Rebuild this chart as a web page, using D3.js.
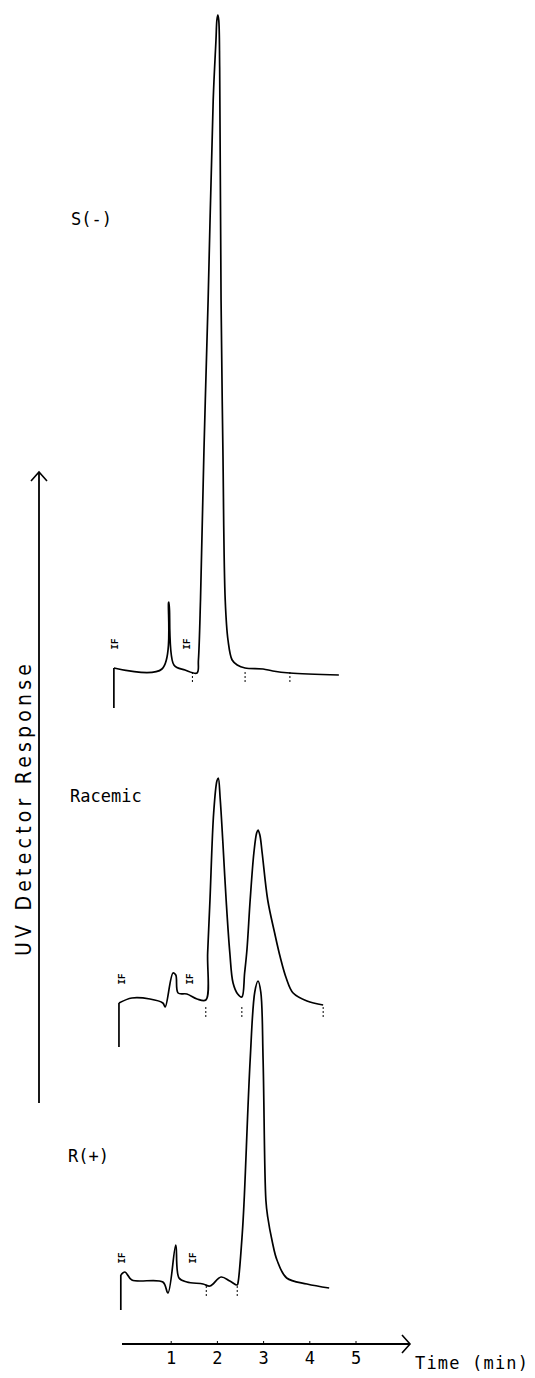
<!DOCTYPE html>
<html><head><meta charset="utf-8">
<script src="https://cdn.jsdelivr.net/npm/d3@7"></script>
<style>html,body{margin:0;padding:0;background:#fff;}svg{display:block;}</style>
</head><body>
<svg id="c" width="535" height="1378"></svg>
<script>
// ---- data (time in min, response in arbitrary detector units above each trace's baseline)
const timeTicks = [1, 2, 3, 4, 5];
const traceNames = ["S(-)", "Racemic", "R(+)"];

const sTime = [-0.23,-0.23,0.81,0.96,1.07,1.31,1.57,1.60,1.645,1.72,1.81,1.92,1.98,2.00,2.02,2.04,2.06,2.09,2.13,2.18,2.24,2.33,2.44,2.61,3.00,3.21,3.58,4.64];
const sResp = [-40,0,-1,66,3,-2,-5,8,68,218,368,568,628,648,653,648,600,368,218,68,28,8,3,0,-1,-3,-5,-7];

const racTime = [-0.12,-0.12,0.16,0.55,0.83,0.88,1.05,1.11,1.16,1.35,1.57,1.76,1.80,1.85,1.93,2.00,2.03,2.07,2.13,2.20,2.28,2.35,2.45,2.54,2.60,2.65,2.72,2.80,2.86,2.89,2.93,2.98,3.10,3.25,3.37,3.50,3.65,3.95,4.30];
const racResp = [-44,0,5,4,0,-4,30,28,10,9,4,3,50,103,190,222,225,205,160,103,50,20,9,6,30,53,103,150,170,173,168,150,103,70,46,25,10,2,-2];

const rTime = [-0.08,-0.08,0.01,0.16,0.83,0.94,1.11,1.18,1.35,1.70,1.85,2.09,2.28,2.44,2.46,2.55,2.59,2.72,2.82,2.89,2.95,3.00,3.06,3.10,3.20,3.30,3.51,3.95,4.43];
const rResp = [-28,7,10,2,0,-11,37,4,0,-2,-4,5,1,-3,0,49,82,222,290,301,290,222,82,65,40,22,4,-2,-6];

// small event marks under the traces (time)
const sMarks = [1.47, 2.61, 3.58];
const racMarks = [1.76, 2.54, 4.30];
const rMarks = [1.77, 2.44];
// "IF" annotation times
const sIF = [-0.21, 1.35];
const racIF = [-0.06, 1.42];
const rIF = [-0.05, 1.48];

// ---- layout
const svg = d3.select("#c");
const x = d3.scaleLinear().domain([0, 5]).range([124.5, 355.5]);
const resp = d3.scaleLinear().domain([0, 100]).range([0, -100]);
const baselines = [668, 1003, 1282];
const labelPos = [[71, 225], [70, 802], [68, 1162]];
const traces = [
  {t: sTime, r: sResp, marks: sMarks, IF: sIF},
  {t: racTime, r: racResp, marks: racMarks, IF: racIF},
  {t: rTime, r: rResp, marks: rMarks, IF: rIF}
];
const lineStraight = d3.line().x(d => x(d[0])).y(d => resp(d[1])).curve(d3.curveLinear);
const lineSmooth = d3.line().x(d => x(d[0])).y(d => resp(d[1])).curve(d3.curveCatmullRom.alpha(0.5));

traces.forEach((tr, i) => {
  const g = svg.append("g").attr("transform", `translate(0,${baselines[i]})`);
  const pts = tr.t.map((t, k) => [t, tr.r[k]]);
  g.append("path").datum(pts.slice(0, 2)).attr("d", lineStraight)
    .attr("fill", "none").attr("stroke", "#000").attr("stroke-width", 1.7);
  g.append("path").datum(pts.slice(1)).attr("d", lineSmooth)
    .attr("fill", "none").attr("stroke", "#000").attr("stroke-width", 1.7).attr("stroke-linejoin", "round");
  g.selectAll("line.mk").data(tr.marks).enter().append("line")
    .attr("x1", d => x(d)).attr("x2", d => x(d))
    .attr("y1", resp(-4)).attr("y2", resp(-14))
    .attr("stroke", "#000").attr("stroke-width", 1).attr("stroke-dasharray", "2,2");
  g.selectAll("text.if").data(tr.IF).enter().append("text")
    .attr("transform", d => `translate(${x(d) + 3},${resp(24)}) rotate(-90)`)
    .attr("font-family", "DejaVu Sans Mono").attr("font-size", 9).attr("font-weight", "bold")
    .attr("text-anchor", "middle").text("IF");
  svg.append("text").attr("x", labelPos[i][0]).attr("y", labelPos[i][1])
    .attr("font-family", "DejaVu Sans Mono").attr("font-size", 17).attr("fill", "#000")
    .text(traceNames[i]);
});

// time axis
const axisY = 1344;
const ax = d3.axisBottom(x).tickValues(timeTicks).tickSize(-3).tickPadding(8).tickFormat(d3.format("d"));
const ag = svg.append("g").attr("transform", `translate(0,${axisY})`).call(ax);
ag.select(".domain").remove();
ag.selectAll("text").attr("font-family", "DejaVu Sans Mono").attr("font-size", 17).attr("fill", "#000");
ag.selectAll("line").attr("stroke", "#000");
svg.append("line").attr("x1", 122).attr("x2", 410).attr("y1", axisY).attr("y2", axisY)
  .attr("stroke", "#000").attr("stroke-width", 1.8);
svg.append("path").attr("d", `M402,${axisY - 9} L410,${axisY} L402,${axisY + 9}`)
  .attr("fill", "none").attr("stroke", "#000").attr("stroke-width", 1.6);
svg.append("text").attr("x", 415).attr("y", 1369).attr("font-family", "DejaVu Sans Mono")
  .attr("font-size", 17).attr("textLength", 113).attr("lengthAdjust", "spacing")
  .attr("fill", "#000").text("Time (min)");

// response axis
const yTop = 472, yBot = 1103, yX = 39;
svg.append("line").attr("x1", yX).attr("x2", yX).attr("y1", yTop).attr("y2", yBot)
  .attr("stroke", "#000").attr("stroke-width", 1.8);
svg.append("path").attr("d", `M${yX - 8},${yTop + 9} L${yX},${yTop} L${yX + 8},${yTop + 9}`)
  .attr("fill", "none").attr("stroke", "#000").attr("stroke-width", 1.6);
svg.append("text").attr("transform", "translate(31,810) rotate(-90)")
  .attr("text-anchor", "middle").attr("font-family", "'Liberation Sans Narrow', 'DejaVu Sans Condensed'")
  .attr("font-size", 21).attr("textLength", 292).attr("lengthAdjust", "spacing")
  .attr("fill", "#000").text("UV Detector Response");
</script>
</body></html>
